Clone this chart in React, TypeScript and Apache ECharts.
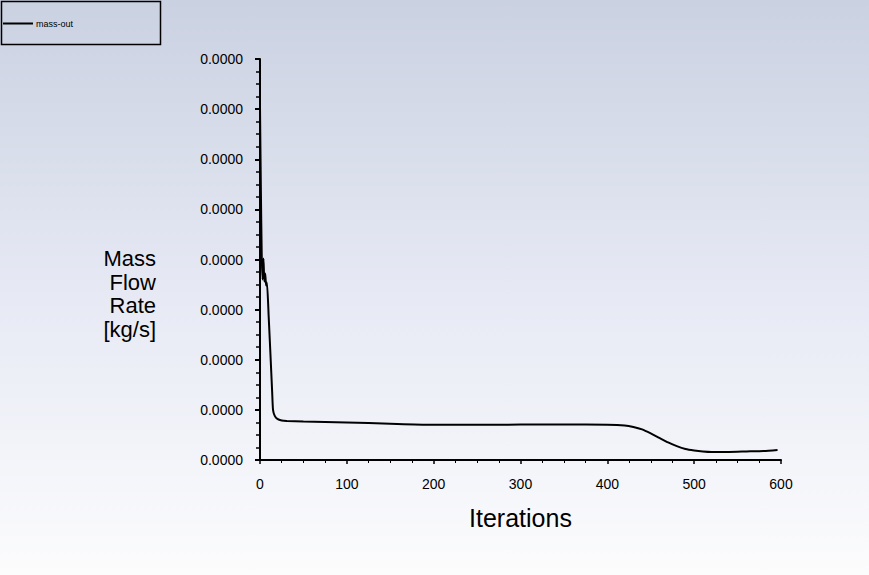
import React, { useEffect, useRef } from 'react';
import * as echarts from 'echarts';

// iteration numbers and mass-out values (kg/s)
const iterations = [0, 1, 2, 3, 4, 5, 6, 7, 8, 10, 12, 14, 15, 17, 20, 25, 31, 50, 100, 150, 196, 250, 300, 350, 400, 420, 430, 440, 450, 460, 470, 480, 490, 500, 510, 520, 540, 560, 580, 596];
const massOut = [
  35.2e-6, 27.0e-6, 20.4e-6, 18.0e-6, 20.1e-6, 17.8e-6, 18.6e-6, 17.4e-6, 17.7e-6, 14.3e-6, 10.6e-6, 6.8e-6, 5.0e-6, 4.4e-6, 4.1e-6, 3.95e-6, 3.9e-6, 3.85e-6, 3.75e-6, 3.62e-6, 3.52e-6, 3.52e-6, 3.53e-6, 3.53e-6, 3.52e-6, 3.45e-6, 3.3e-6, 3.05e-6, 2.65e-6, 2.2e-6, 1.75e-6, 1.38e-6, 1.1e-6, 0.95e-6, 0.85e-6, 0.8e-6, 0.8e-6, 0.85e-6, 0.9e-6, 1.0e-6,
];
const seriesName = 'mass-out';
const xTitle = 'Iterations';
const yTitle = 'Mass\nFlow\nRate\n[kg/s]';

const App: React.FC = () => {
  const chartRef = useRef<HTMLDivElement>(null);

  useEffect(() => {
    if (!chartRef.current) return;
    document.body.style.margin = '0';
    const chart = echarts.init(chartRef.current, null, { renderer: 'svg' });

    const font = 'Arial, "Liberation Sans", sans-serif';

    chart.setOption({
      animation: false,
      backgroundColor: new echarts.graphic.LinearGradient(0, 0, 0, 1, [
        { offset: 0, color: '#cad1e1' },
        { offset: 0.5, color: '#e6e9f4' },
        { offset: 1, color: '#fcfcfd' },
      ]),
      grid: { left: 260, right: 88, top: 59, bottom: 115 },
      legend: {
        left: 3,
        top: 19,
        padding: 0,
        icon: 'rect',
        itemWidth: 30,
        itemHeight: 2,
        itemGap: 5,
        textStyle: { fontSize: 9, color: '#000', fontFamily: font, padding: [0, 0, 0, -2] },
        data: [seriesName],
      },
      graphic: [
        {
          type: 'rect',
          shape: { x: 1.5, y: 1.5, width: 159, height: 43 },
          style: { fill: 'none', stroke: '#000', lineWidth: 1.5 },
        },
        {
          type: 'text',
          x: 156,
          y: 294,
          style: {
            text: yTitle,
            fontSize: 22,
            lineHeight: 23.5,
            fontFamily: font,
            fill: '#000',
            align: 'right',
            verticalAlign: 'middle',
          },
        },
      ],
      xAxis: {
        type: 'value',
        min: 0,
        max: 600,
        interval: 100,
        name: xTitle,
        nameLocation: 'middle',
        nameGap: 45,
        nameTextStyle: { fontSize: 25, color: '#000', fontFamily: font },
        axisLine: { onZero: false, lineStyle: { color: '#000', width: 2 } },
        axisTick: { length: 4, lineStyle: { color: '#000', width: 1.5 } },
        minorTick: { show: true, splitNumber: 4, length: 3, lineStyle: { color: '#000', width: 1 } },
        axisLabel: { fontSize: 14, color: '#000', fontFamily: font, margin: 17 },
        splitLine: { show: false },
      },
      yAxis: {
        type: 'value',
        min: 0,
        max: 40e-6,
        interval: 5e-6,
        axisLine: { show: true, onZero: false, lineStyle: { color: '#000', width: 2 } },
        axisTick: { show: true, length: 5, lineStyle: { color: '#000', width: 2 } },
        minorTick: { show: true, splitNumber: 4, length: 4, lineStyle: { color: '#000', width: 1.5 } },
        axisLabel: {
          fontSize: 14,
          color: '#000',
          fontFamily: font,
          margin: 17,
          formatter: (v: number) => Math.abs(v).toFixed(4),
        },
        splitLine: { show: false },
      },
      series: [
        {
          name: seriesName,
          type: 'line',
          data: iterations.map((it, i) => [it, massOut[i]]),
          showSymbol: false,
          smooth: 0.2,
          lineStyle: { color: '#000', width: 2 },
          itemStyle: { color: '#000' },
        },
      ],
    });

    return () => {
      chart.dispose();
    };
  }, []);

  return <div ref={chartRef} style={{ width: 869, height: 575 }} />;
};

export default App;
